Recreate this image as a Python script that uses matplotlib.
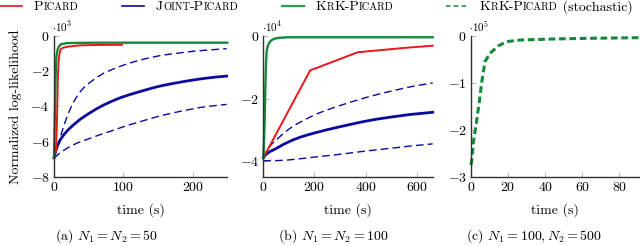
import matplotlib
matplotlib.use('Agg')
import matplotlib.pyplot as plt
from matplotlib.lines import Line2D
from matplotlib.ticker import FuncFormatter, FixedLocator

plt.rcParams['font.family'] = ['cmr10', 'DejaVu Serif']
plt.rcParams['mathtext.fontset'] = 'cm'
plt.rcParams['axes.unicode_minus'] = False

# ---- data (values in units of the offset shown above each panel) ----
# (a) N1 = N2 = 50, x1e3
a_picard_t = [0, 3, 4.5, 5.5, 6.5, 8, 9.6, 13, 19, 38, 62, 98]
a_picard_y = [-6.9, -6.5, -4.5, -2.5, -1.5, -1.0, -0.76, -0.67, -0.61, -0.53, -0.51, -0.5]
a_krk_t = [0, 1.5, 2.5, 3.5, 5, 7, 10, 19, 60, 250]
a_krk_y = [-6.9, -4.0, -2.0, -1.2, -0.8, -0.6, -0.47, -0.4, -0.38, -0.38]
a_joint_t = [0, 2, 4.8, 9, 14.4, 20, 28.7, 38, 47.8, 60, 71.8, 84, 95.7, 107, 119.6, 131, 143.5,
             155, 167.5, 180, 191.4, 203, 215, 232, 249]
a_joint_y = [-6.93, -6.6, -6.26, -5.9, -5.6, -5.35, -5.03, -4.73, -4.47, -4.17, -3.92, -3.7, -3.51,
             -3.36, -3.21, -3.08, -2.94, -2.83, -2.73, -2.64, -2.56, -2.49, -2.42, -2.34, -2.28]
a_joint_hi_t = [0, 4.8, 9.6, 14.4, 19.1, 24, 28.7, 33.5, 38.3, 43, 47.8, 60, 71.8, 84, 95.7, 107,
                119.6, 131, 143.5, 155, 167.5, 180, 191.4, 203, 215, 232, 249]
a_joint_hi_y = [-6.93, -6.3, -5.69, -5.08, -4.55, -4.1, -3.72, -3.41, -3.15, -2.94, -2.76, -2.4, -2.11,
                -1.9, -1.72, -1.56, -1.42, -1.3, -1.19, -1.1, -1.03, -0.97, -0.91, -0.86, -0.82,
                -0.77, -0.72]
a_joint_lo_t = [0, 10, 23.9, 35, 47.8, 60, 71.8, 84, 95.7, 107, 119.6, 131, 143.5, 155, 167.5, 180,
                191.4, 203, 215, 232, 249]
a_joint_lo_y = [-6.95, -6.6, -6.26, -6.06, -5.88, -5.7, -5.54, -5.38, -5.22, -5.07, -4.93, -4.79,
                -4.65, -4.52, -4.41, -4.3, -4.21, -4.12, -4.04, -3.96, -3.89]

# (b) N1 = N2 = 100, x1e4
b_picard_t = [0, 183, 369, 553, 662]
b_picard_y = [-3.9, -1.1, -0.52, -0.38, -0.31]
b_krk_t = [0, 2.7, 5, 7, 9, 11, 13, 17, 22, 30, 39, 52, 75, 100, 662]
b_krk_y = [-3.9, -3.4, -2.8, -2.0, -1.3, -0.8, -0.5, -0.33, -0.23, -0.15, -0.1, -0.07, -0.05, -0.04, -0.04]
b_joint_t = [0, 5, 12, 25, 40, 52, 80, 117, 150, 183, 215, 248, 290, 339, 390, 443, 510, 574, 662]
b_joint_y = [-3.9, -3.84, -3.78, -3.7, -3.64, -3.59, -3.46, -3.32, -3.22, -3.14, -3.07, -3.0, -2.92,
             -2.83, -2.74, -2.66, -2.58, -2.51, -2.44]
b_joint_hi_t = [0, 8, 20, 35, 52, 80, 117, 150, 183, 215, 248, 290, 339, 400, 460, 522, 590, 662]
b_joint_hi_y = [-3.9, -3.75, -3.57, -3.44, -3.32, -3.1, -2.88, -2.73, -2.59, -2.47, -2.37, -2.25,
                -2.12, -1.97, -1.84, -1.72, -1.6, -1.5]
b_joint_lo_t = [0, 40, 91, 150, 202, 260, 313, 380, 443, 510, 574, 662]
b_joint_lo_y = [-3.99, -3.99, -3.97, -3.92, -3.87, -3.82, -3.77, -3.7, -3.64, -3.58, -3.52, -3.45]

# (c) N1 = 100, N2 = 500, x1e5
c_stoch_t = [0, 0.4, 1.3, 2.7, 4.5, 5.8, 7.5, 10.2, 14.7, 19.2, 26.4, 44, 62, 91]
c_stoch_y = [-2.75, -2.66, -2.26, -1.9, -1.4, -0.98, -0.55, -0.37, -0.21, -0.12, -0.086, -0.064, -0.05, -0.036]

red = '#e8161b'
blue = '#0a0a9e'
green = '#118a3a'
green_leg = '#2ca048'
fs = 10

fig = plt.figure(figsize=(6.4, 2.46), dpi=100)

W, H = 640.0, 246.0
bot, top = 176.7, 36.0
def add_ax(x0, x1):
    return fig.add_axes([x0 / W, 1 - bot / H, (x1 - x0) / W, (bot - top) / H])

ax_a = add_ax(54, 227.3)
ax_b = add_ax(263.3, 432.7)
ax_c = add_ax(471, 639.5)

def style(ax, xt, yt, xlim, ylim, expo):
    for s in ['top', 'right']:
        ax.spines[s].set_visible(False)
    for s in ['left', 'bottom']:
        ax.spines[s].set_color('#303030')
        ax.spines[s].set_linewidth(1.0)
    ax.set_xlim(*xlim)
    ax.set_ylim(*ylim)
    ax.xaxis.set_major_locator(FixedLocator(xt))
    ax.yaxis.set_major_locator(FixedLocator(yt))
    fmt = FuncFormatter(lambda v, p: r'$%d$' % round(v))
    ax.xaxis.set_major_formatter(fmt)
    ax.yaxis.set_major_formatter(fmt)
    ax.tick_params(direction='in', length=3.5, width=0.7, color='#b4b4b4',
                   labelsize=fs, pad=3)
    ax.text(-0.01, 1.03, r'$\cdot 10^{%d}$' % expo, transform=ax.transAxes,
            ha='left', va='baseline', fontsize=8)
    ax.set_xlabel('time (s)', fontsize=fs, labelpad=7)

# (a)
ax_a.plot(a_joint_hi_t, a_joint_hi_y, color=blue, lw=1.0, dashes=(5.5, 3))
ax_a.plot(a_joint_lo_t, a_joint_lo_y, color=blue, lw=1.0, dashes=(5.5, 3))
ax_a.plot(a_joint_t, a_joint_y, color=blue, lw=2.0)
ax_a.plot(a_picard_t, a_picard_y, color=red, lw=1.4)
ax_a.plot(a_krk_t, a_krk_y, color=green, lw=1.7)
style(ax_a, [0, 100, 200], [0, -2, -4, -6, -8], (0, 250), (-8, 0), 3)
ax_a.set_ylabel('Normalized log-likelihood', fontsize=fs, labelpad=6)

# (b)
ax_b.plot(b_joint_hi_t, b_joint_hi_y, color=blue, lw=1.0, dashes=(5.5, 3))
ax_b.plot(b_joint_lo_t, b_joint_lo_y, color=blue, lw=1.0, dashes=(5.5, 3))
ax_b.plot(b_joint_t, b_joint_y, color=blue, lw=2.0)
ax_b.plot(b_picard_t, b_picard_y, color=red, lw=1.4)
ax_b.plot(b_krk_t, b_krk_y, color=green, lw=1.7)
style(ax_b, [0, 200, 400, 600], [0, -2, -4], (0, 662), (-4.5, 0), 4)

# (c)
ax_c.plot(c_stoch_t, c_stoch_y, color=green, lw=2.2, dashes=(2.2, 1.2))
style(ax_c, [0, 20, 40, 60, 80], [0, -1, -2, -3], (0, 90.8), (-3, 0), 5)

for a in (ax_a, ax_b, ax_c):
    for ln in a.get_lines():
        ln.set_clip_on(False)

# subcaptions
cap_y = 1 - 236 / H
fig.text(106 / W, cap_y, r'(a) $N_1 = N_2 = 50$', ha='center', va='center', fontsize=fs)
fig.text(333 / W, cap_y, r'(b) $N_1 = N_2 = 100$', ha='center', va='center', fontsize=fs)
fig.text(534 / W, cap_y, r'(c) $N_1 = 100, N_2 = 500$', ha='center', va='center', fontsize=fs)

# legend, small caps built from pieces of two sizes on one baseline
big, small = 10, 7.5
def smallcaps(word):
    parts = []
    for ch in word:
        sz = small if ch.islower() else big
        s = ch.upper()
        if parts and parts[-1][1] == sz:
            parts[-1] = (parts[-1][0] + s, sz)
        else:
            parts.append((s, sz))
    return parts

leg_entries = [
    ('Picard', red, 1.2, None, 0, ''),
    ('Joint-Picard', blue, 1.2, None, 122, ''),
    ('KrK-Picard', green_leg, 1.6, None, 282, ''),
    ('KrK-Picard', green_leg, 1.3, (2.5, 1.8), 446, ' (stochastic)'),
]
renderer = fig.canvas.get_renderer()
leg_y = 6.0
base_y = 1 - 10.5 / H
for label, col, lw, dash, x0, tail in leg_entries:
    ln = Line2D([x0 / W, (x0 + 22) / W], [1 - leg_y / H] * 2, color=col, lw=lw,
                transform=fig.transFigure)
    if dash:
        ln.set_dashes(dash)
    fig.add_artist(ln)
    parts = smallcaps(label)
    if tail:
        parts.append((tail, big))
    x = x0 + 34
    for s, sz in parts:
        t = fig.text(x / W, base_y, s, fontsize=sz, ha='left', va='baseline')
        x += t.get_window_extent(renderer).width

fig.savefig('out.png', dpi=100)
